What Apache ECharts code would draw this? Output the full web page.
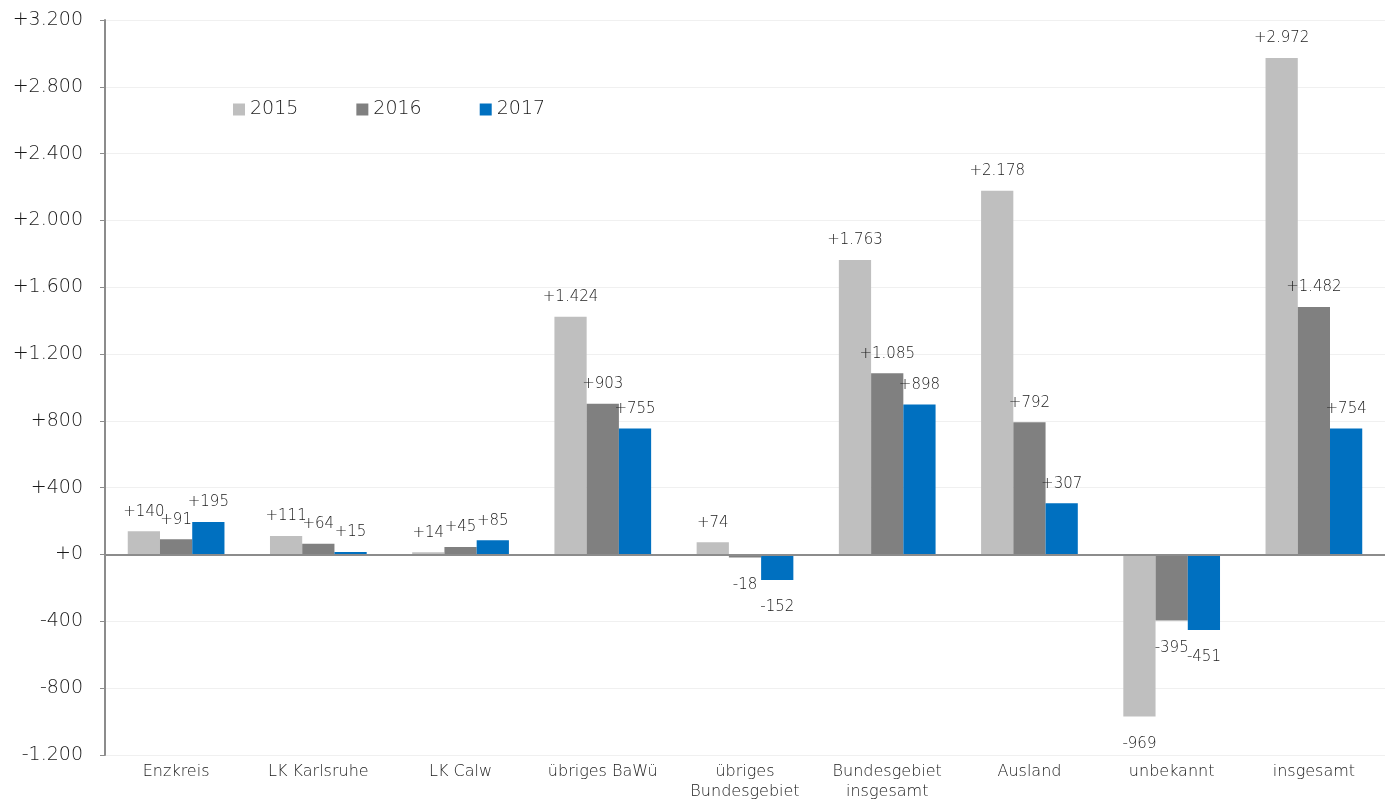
<!DOCTYPE html>
<html>
<head>
<meta charset="utf-8">
<script src="https://cdn.jsdelivr.net/npm/echarts@6/dist/echarts.min.js"></script>
<style>
  html, body { margin: 0; padding: 0; background: #fff; }
  #chart { width: 1392px; height: 803px; }
</style>
</head>
<body>
<div id="chart"></div>
<script>
// Wanderungssaldo nach Herkunfts-/Zielgebiet
const categories = ['Enzkreis', 'LK Karlsruhe', 'LK Calw', 'übriges BaWü', 'übriges\nBundesgebiet',
  'Bundesgebiet\ninsgesamt', 'Ausland', 'unbekannt', 'insgesamt'];
const years = ['2015', '2016', '2017'];
const values2015 = [140, 111, 14, 1424, 74, 1763, 2178, -969, 2972];
const values2016 = [91, 64, 45, 903, -18, 1085, 792, -395, 1482];
const values2017 = [195, 15, 85, 755, -152, 898, 307, -451, 754];
const colors = ['#BFBFBF', '#808080', '#0070C0'];

const FONT = 'DejaVu Sans';
const WEIGHT = 300;
const TEXT = '#1a1a1a';

function fmt(v) {
  const s = Math.abs(v).toString().replace(/\B(?=(\d{3})+(?!\d))/g, '.');
  return (v < 0 ? '-' : '+') + s;
}

function makeSeries(name, data, color, withZeroLine) {
  const s = {
    name: name,
    type: 'bar',
    barGap: '0%',
    barCategoryGap: '32%',
    itemStyle: { color: color },
    data: data.map(v => ({
      value: v,
      label: {
        show: true,
        position: v < 0 ? 'bottom' : 'top',
        distance: v < 0 ? 20 : 12,
        formatter: p => fmt(p.value),
        color: TEXT,
        fontFamily: FONT,
        fontWeight: WEIGHT,
        fontSize: 15
      }
    }))
  };
  if (withZeroLine) {
    s.markLine = {
      silent: true,
      symbol: 'none',
      label: { show: false },
      lineStyle: { color: '#8c8c8c', width: 2, type: 'solid' },
      data: [{ yAxis: 0 }],
      z: 10
    };
  }
  return s;
}

const chart = echarts.init(document.getElementById('chart'));
chart.setOption({
  animation: false,
  backgroundColor: '#fff',
  grid: { left: 105, right: 7, top: 20, bottom: 48, containLabel: false },
  legend: {
    data: years,
    left: 228,
    top: 95,
    itemWidth: 12,
    itemHeight: 12,
    itemGap: 58,
    icon: 'rect',
    textStyle: { color: TEXT, fontFamily: FONT, fontWeight: WEIGHT, fontSize: 19 }
  },
  xAxis: {
    type: 'category',
    data: categories,
    position: 'bottom',
    axisLine: { show: false, onZero: false },
    axisTick: { show: false },
    axisLabel: { color: TEXT, fontFamily: FONT, fontWeight: WEIGHT, fontSize: 16, margin: 7, lineHeight: 20, interval: 0 }
  },
  yAxis: {
    type: 'value',
    min: -1200,
    max: 3200,
    interval: 400,
    axisLine: { show: true, lineStyle: { color: '#8c8c8c', width: 2 } },
    axisTick: { show: true, length: 5, lineStyle: { color: '#8c8c8c', width: 1 } },
    splitLine: { show: true, lineStyle: { color: '#f0f0f0', width: 1 } },
    axisLabel: { formatter: v => fmt(v), color: TEXT, fontFamily: FONT, fontWeight: WEIGHT, fontSize: 19, margin: 22 }
  },
  series: [
    makeSeries(years[0], values2015, colors[0], true),
    makeSeries(years[1], values2016, colors[1], false),
    makeSeries(years[2], values2017, colors[2], false)
  ]
});
</script>
</body>
</html>
